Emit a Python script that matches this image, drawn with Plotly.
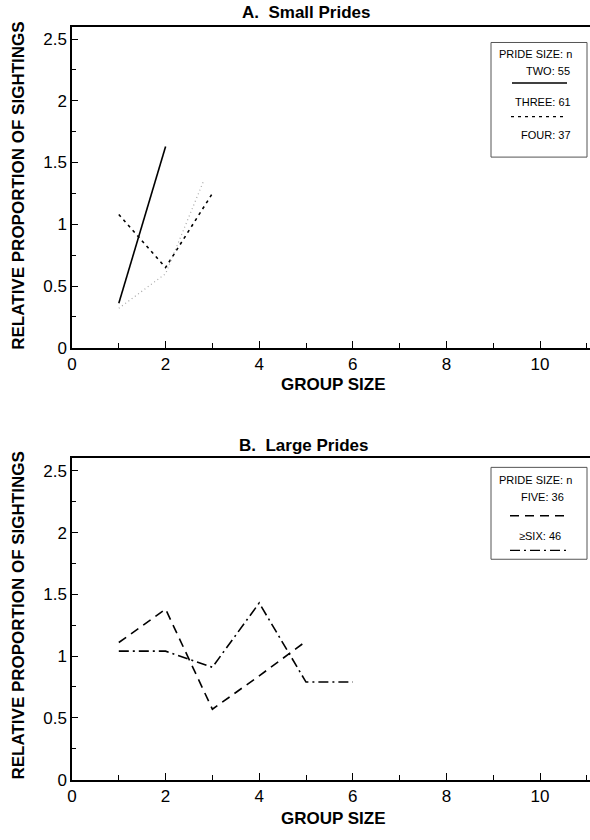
import plotly.graph_objects as go

# ---------------- data ----------------
group_two = [1, 2]
prop_two = [0.36, 1.63]

group_three = [1, 2, 3]
prop_three = [1.08, 0.65, 1.25]

group_four = [1, 2, 2.8]
prop_four = [0.32, 0.60, 1.34]

group_five = [1, 2, 3, 4, 5]
prop_five = [1.11, 1.38, 0.57, 0.84, 1.12]

group_six = [1, 2, 3, 4, 5, 6]
prop_six = [1.04, 1.04, 0.91, 1.43, 0.79, 0.79]

x_ticks = [0, 2, 4, 6, 8, 10]
y_ticks = [0, 0.5, 1, 1.5, 2, 2.5]

legend_a = ["PRIDE SIZE: n", "TWO: 55", "THREE: 61", "FOUR: 37"]
legend_b = ["PRIDE SIZE: n", "FIVE: 36", "\u2265SIX: 46"]

# ---------------- layout helpers ----------------
W, H = 590, 840
L, R = 72, 0
PW = W - L - R
FONT = "Liberation Sans, Arial, sans-serif"


def px(xp):                  # page pixel -> paper x
    return (xp - L) / PW


def py(yp):                  # page pixel -> paper y
    return 1 - yp / H


fig = go.Figure()

line_w = 1.6
fig.add_trace(go.Scatter(x=group_two, y=prop_two, mode="lines",
                         line=dict(color="black", width=line_w), xaxis="x", yaxis="y"))
fig.add_trace(go.Scatter(x=group_three, y=prop_three, mode="lines",
                         line=dict(color="black", width=line_w, dash="3px,4px"), xaxis="x", yaxis="y"))
fig.add_trace(go.Scatter(x=group_four, y=prop_four, mode="lines",
                         line=dict(color="#a8a8a8", width=1.2, dash="1px,3px"), xaxis="x", yaxis="y"))
fig.add_trace(go.Scatter(x=group_five, y=prop_five, mode="lines",
                         line=dict(color="black", width=line_w, dash="9px,6px"), xaxis="x2", yaxis="y2"))
fig.add_trace(go.Scatter(x=group_six, y=prop_six, mode="lines",
                         line=dict(color="black", width=line_w, dash="10px,4px,2px,4px"), xaxis="x2", yaxis="y2"))

xaxis_common = dict(
    range=[0, PW / 46.8], showline=True, linecolor="black", linewidth=1.5, mirror=True,
    ticks="inside", ticklen=7, tickwidth=1, tickcolor="black", tickvals=x_ticks,
    minor=dict(dtick=1, tick0=0, ticks="inside", ticklen=5, tickcolor="black"),
    showgrid=False, zeroline=False, tickfont=dict(family=FONT, size=17, color="black"),
    fixedrange=True,
)
yaxis_common = dict(
    range=[0, 2.6], showline=True, linecolor="black", linewidth=1.5,
    ticks="inside", ticklen=6, tickwidth=1, tickcolor="black", tickvals=y_ticks,
    ticktext=[f"{v:g}" for v in y_ticks],
    minor=dict(dtick=0.25, tick0=0, ticks="inside", ticklen=4, tickcolor="black"),
    showgrid=False, zeroline=False, tickfont=dict(family=FONT, size=17, color="black"),
    fixedrange=True,
)

fig.update_layout(
    width=W, height=H, margin=dict(l=L, r=R, t=0, b=0),
    paper_bgcolor="white", plot_bgcolor="white", showlegend=False,
    xaxis=dict(domain=[0, 1], anchor="y", **xaxis_common),
    yaxis=dict(domain=[py(352), py(27)], anchor="x", **yaxis_common),
    xaxis2=dict(domain=[0, 1], anchor="y2", **xaxis_common),
    yaxis2=dict(domain=[py(789), py(464)], anchor="x2", **yaxis_common),
)

ann = []
shapes = []


def text(t, xp, yp, size, xanchor="center", angle=0):
    ann.append(dict(text=t, x=px(xp), y=py(yp), xref="paper", yref="paper",
                    xanchor=xanchor, yanchor="middle", textangle=angle, showarrow=False,
                    font=dict(family=FONT, size=size, color="black")))


# panel titles
text("<b>A.&nbsp; Small Prides</b>", 306, 13, 17)
text("<b>B.&nbsp; Large Prides</b>", 303, 451, 17)
# axis titles
text("<b>GROUP SIZE</b>", 333, 389, 17)
text("<b>GROUP SIZE</b>", 333, 828, 17)
text("<b>RELATIVE PROPORTION OF SIGHTINGS</b>", 19, 188, 17, angle=-90)
text("<b>RELATIVE PROPORTION OF SIGHTINGS</b>", 19, 623, 17, angle=-90)

# legend A
shapes.append(dict(type="rect", xref="paper", yref="paper", x0=px(491), x1=px(587), y0=py(159), y1=py(43),
                   line=dict(color="#555", width=1), fillcolor="white"))
text(legend_a[0], 574, 55, 11, "right")
text(legend_a[1], 572, 72, 11, "right")
text(legend_a[2], 573, 103, 11, "right")
text(legend_a[3], 573, 137, 11, "right")
shapes.append(dict(type="line", xref="paper", yref="paper", x0=px(512), x1=px(567), y0=py(84), y1=py(84),
                   line=dict(color="black", width=1.4)))
shapes.append(dict(type="line", xref="paper", yref="paper", x0=px(511), x1=px(564), y0=py(118), y1=py(118),
                   line=dict(color="black", width=1.4, dash="3px,4px")))

# legend B
shapes.append(dict(type="rect", xref="paper", yref="paper", x0=px(491), x1=px(587), y0=py(566), y1=py(473),
                   line=dict(color="#555", width=1), fillcolor="white"))
text(legend_b[0], 574, 486, 11, "right")
text(legend_b[1], 566, 503, 11, "right")
text(legend_b[2], 563, 542, 11, "right")
shapes.append(dict(type="line", xref="paper", yref="paper", x0=px(510), x1=px(566), y0=py(522), y1=py(522),
                   line=dict(color="black", width=1.4, dash="9px,6px")))
shapes.append(dict(type="line", xref="paper", yref="paper", x0=px(510), x1=px(566), y0=py(557), y1=py(557),
                   line=dict(color="black", width=1.4, dash="10px,4px,2px,4px")))

fig.update_layout(annotations=ann, shapes=shapes)

# remove the browser's default 8px body margin so the 590x840 figure fills the window exactly
fig.write_html("out.html", config={"displayModeBar": False},
               post_script="document.body.style.margin='0px';")
